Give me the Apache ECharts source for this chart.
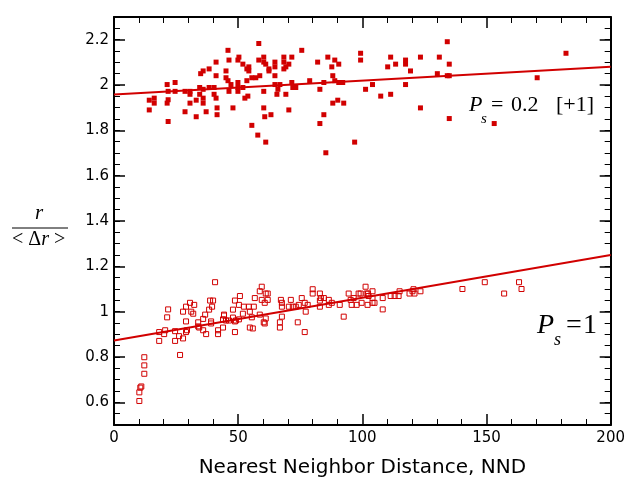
<!DOCTYPE html>
<html>
<head>
<meta charset="utf-8">
<script src="https://cdn.jsdelivr.net/npm/echarts@6/dist/echarts.min.js"></script>
<style>html,body{margin:0;padding:0;background:#fff}#c{width:628px;height:483px}</style>
</head>
<body>
<div id="c"></div>
<script>
// Ps = 0.2 (plotted with +1 offset), filled squares
const filledX = [14.2,16.2,16.2,14.2,21.4,21.8,21.4,21.8,21.8,24.6,24.6,28.6,28.6,30.6,30.6,30.6,33.1,33.1,34.5,34.5,34.9,35.9,35.9,35.9,35.9,37.1,38.3,38.3,40.3,40.3,41.1,41.1,41.1,41.5,41.5,45.9,45.1,45.1,45.9,46.3,47.1,46.3,47.9,49.9,50.3,49.9,49.9,49.9,51.9,51.9,53.5,54.3,54.3,53.5,52.7,53.9,55.5,55.5,57.1,57.9,58.3,58.3,58.7,60.3,60.3,61.1,60.3,60.3,60.7,61.1,62.4,62.4,63.2,64.8,64.8,64.8,64.8,66,65.6,66.8,68.4,68.4,68.4,69.2,70.4,71.6,71.6,72,73.2,69.2,70.4,75.6,78.8,82,82.9,82.9,84.5,84.5,85.3,86.1,87.7,88.1,88.9,88.9,90.5,90.5,92.1,90.1,88.1,92.5,96.9,99.3,99.3,101.3,104.1,107.4,110.2,111.4,111.4,113.4,117.4,117.4,117.4,119.4,123.4,123.4,130.2,131,134.2,135,134.2,135,135,153.1,170.4,182];
const filledY = [1.933,1.942,1.92,1.89,2.002,1.972,1.92,1.935,1.839,2.011,1.972,1.972,1.882,1.972,1.959,1.92,1.933,1.86,1.989,1.959,2.05,2.062,1.981,1.942,1.92,1.882,2.071,1.989,1.989,1.959,2.101,2.041,1.942,1.899,1.869,2.153,2.062,2.032,2.019,2.11,2.002,1.972,1.899,2.11,2.123,2.011,1.989,1.972,2.092,1.989,2.071,2.062,2.08,2.019,1.942,1.951,1.822,2.032,2.032,1.779,2.183,2.11,2.041,2.123,2.101,2.092,1.972,1.899,1.86,1.748,2.071,2.062,1.869,2.101,2.08,2.041,2.002,1.981,1.959,2.002,2.123,2.101,2.071,2.08,2.092,2.123,2.011,1.989,1.989,1.959,1.89,2.153,2.019,2.101,1.981,1.83,2.011,1.869,1.701,2.123,2.08,2.041,2.11,2.019,2.092,2.011,2.011,1.933,1.92,1.92,1.748,2.14,2.11,1.981,2.002,1.951,2.08,2.123,1.959,2.092,2.11,2.092,2.002,2.062,2.123,1.899,2.05,2.123,2.191,2.092,2.041,2.041,1.852,1.83,2.032,2.14];
// Ps = 1, open squares
const openX = [10.2,10.2,11,10.6,12.2,12.2,12.2,18.2,18.2,20.2,20.6,21.4,21.8,24.6,24.6,26.2,26.6,27.8,27.8,29,29,29,29.4,30.6,31.1,31.9,32.3,33.9,33.9,34.3,35.9,35.9,37.1,36.7,38.3,38.7,39.9,39.5,39.1,39.1,40.7,41.9,41.9,43.9,43.9,44.3,44.3,45.1,46.3,47.9,47.9,48.7,48.7,49.1,48.7,50.3,50.7,50.3,51.9,52.3,54.3,54.7,54.7,55.9,55.5,56.3,56.7,58.7,58.7,59.5,59.5,60.7,61.1,61.9,61.9,60.3,61.1,60.7,66.8,66.8,67.2,67.6,67.6,67.6,70.4,71.2,72,73.2,74,74.4,75.6,76.8,77.2,76.8,78,80,80,82.9,83.3,82.9,82.9,84.5,86.5,86.5,87.7,90.9,92.5,94.5,95.3,95.7,96.5,97.7,98.5,99.7,101.3,101.7,102.1,102.5,99.3,102.3,104.1,104.1,104.9,104.1,108.2,108.2,111.4,113,114.6,115,119,120.2,120.6,121,123.4,140.3,149.3,157.1,163.1,164.1];
const openY = [0.606,0.644,0.67,0.665,0.726,0.763,0.799,0.871,0.91,0.901,0.918,0.975,1.01,0.871,0.914,0.892,0.809,0.882,1.0,1.022,0.957,0.91,0.918,1.039,1.0,0.991,1.03,0.953,0.935,0.93,0.968,0.918,0.901,0.987,1.009,1.049,1.049,1.022,0.957,0.948,1.13,0.918,0.901,0.93,0.966,0.987,0.983,0.961,0.961,0.974,1.009,0.91,0.957,0.961,1.049,1.03,1.069,0.966,0.991,1.022,1.022,1.0,0.93,0.926,0.975,1.022,1.06,0.987,1.09,1.11,1.052,1.039,1.08,1.08,1.052,0.953,0.97,0.948,0.953,0.93,1.052,1.039,1.022,0.978,1.022,1.052,1.022,1.022,0.953,1.03,1.06,1.039,1.0,0.91,1.03,1.099,1.08,1.08,1.06,1.049,1.022,1.06,1.052,1.03,1.039,1.03,0.978,1.08,1.052,1.03,1.06,1.03,1.08,1.039,1.11,1.08,1.03,1.069,1.08,1.08,1.09,1.06,1.039,1.039,1.06,1.01,1.069,1.069,1.069,1.09,1.08,1.09,1.099,1.08,1.09,1.1,1.13,1.08,1.13,1.1];
// linear fits (endpoints)
const fitX = [0, 200];
const fitUpperY = [1.958, 2.08];
const fitLowerY = [0.873, 1.25];
// axis ticks
const xMajorTicks = [0, 50, 100, 150, 200];
const yMajorTicks = [0.6, 0.8, 1, 1.2, 1.4, 1.6, 1.8, 2, 2.2];

const RED = '#d10000';
const pairs = (xs, ys) => xs.map((x, i) => [x, ys[i]]);

const chart = echarts.init(document.getElementById('c'), null, {renderer: 'canvas'});
const axisLine = {show: true, lineStyle: {color: '#000', width: 2}};
const majorTick = {show: true, inside: true, length: 11, lineStyle: {color: '#000', width: 1.5}};
const minorTickStyle = {show: true, inside: true, length: 6, lineStyle: {color: '#000', width: 1}};
const labelFont = {color: '#000', fontFamily: 'DejaVu Sans', fontSize: 15};

const xBase = {type: 'value', min: 0, max: 200, interval: 50, splitLine: {show: false}, axisLine: axisLine,
  axisTick: majorTick, minorTick: Object.assign({splitNumber: 5}, minorTickStyle)};

const option = {
  animation: false,
  grid: {left: 114, right: 16, top: 17, bottom: 50, containLabel: false},
  xAxis: [
    Object.assign({}, xBase, {position: 'bottom',
      axisLabel: Object.assign({margin: 6, customValues: xMajorTicks}, labelFont),
      name: 'Nearest Neighbor Distance, NND', nameLocation: 'middle', nameGap: 33,
      nameTextStyle: {color: '#000', fontFamily: 'DejaVu Sans', fontSize: 20}}),
    Object.assign({}, xBase, {position: 'top', axisLabel: {show: false}})
  ],
  yAxis: [
    {type: 'value', min: 0.5, max: 2.3, position: 'left', splitLine: {show: false}, axisLine: axisLine,
      axisTick: Object.assign({customValues: yMajorTicks}, majorTick),
      axisLabel: Object.assign({customValues: yMajorTicks, margin: 5}, labelFont)},
    {type: 'value', min: 0.5, max: 2.3, interval: 0.05, position: 'left', splitLine: {show: false},
      axisLine: {show: false}, axisTick: minorTickStyle, axisLabel: {show: false}},
    {type: 'value', min: 0.5, max: 2.3, position: 'right', splitLine: {show: false}, axisLine: axisLine,
      axisTick: Object.assign({customValues: yMajorTicks}, majorTick),
      axisLabel: {show: false}},
    {type: 'value', min: 0.5, max: 2.3, interval: 0.05, position: 'right', splitLine: {show: false},
      axisLine: {show: false}, axisTick: minorTickStyle, axisLabel: {show: false}}
  ],
  series: [
    {type: 'scatter', symbol: 'rect', symbolSize: 5, data: pairs(filledX, filledY),
      itemStyle: {color: RED, opacity: 1}},
    {type: 'scatter', symbol: 'rect', symbolSize: 5, data: pairs(openX, openY),
      itemStyle: {color: 'rgba(255,255,255,0)', borderColor: RED, borderWidth: 1, opacity: 1}},
    {type: 'line', data: pairs(fitX, fitUpperY), showSymbol: false, symbol: 'none',
      lineStyle: {color: RED, width: 2}, silent: true},
    {type: 'line', data: pairs(fitX, fitLowerY), showSymbol: false, symbol: 'none',
      lineStyle: {color: RED, width: 2}, silent: true}
  ],
  graphic: [
    // y-axis label fraction
    {type: 'text', left: 35, top: 203, style: {text: 'r', fontFamily: 'Liberation Serif', fontStyle: 'italic', fontSize: 21, fill: '#000'}},
    {type: 'line', shape: {x1: 12, y1: 228, x2: 68, y2: 228}, style: {stroke: '#000', lineWidth: 1}},
    {type: 'text', left: 12, top: 230, style: {text: '{n|< Δ}{i|r}{n| >}', fontSize: 20, fill: '#000',
      rich: {n: {fontFamily: 'Liberation Serif', fontSize: 20}, i: {fontFamily: 'Liberation Serif', fontStyle: 'italic', fontSize: 20}}}},
    // Ps = 0.2 [+1]
    {type: 'text', x: 469, y: 105, style: {text: 'P', fontFamily: 'Liberation Serif', fontStyle: 'italic', fontSize: 22, fill: '#000', verticalAlign: 'middle'}},
    {type: 'text', x: 481, y: 119, style: {text: 's', fontFamily: 'Liberation Serif', fontStyle: 'italic', fontSize: 15, fill: '#000', verticalAlign: 'middle'}},
    {type: 'text', x: 491, y: 105, style: {text: '=', fontFamily: 'Liberation Serif', fontSize: 22, fill: '#000', verticalAlign: 'middle'}},
    {type: 'text', x: 511, y: 105, style: {text: '0.2', fontFamily: 'Liberation Serif', fontSize: 22, fill: '#000', verticalAlign: 'middle'}},
    {type: 'text', x: 556, y: 105, style: {text: '[+1]', fontFamily: 'Liberation Serif', fontSize: 22, fill: '#000', verticalAlign: 'middle'}},
    // Ps = 1
    {type: 'text', x: 537, y: 326, style: {text: 'P', fontFamily: 'Liberation Serif', fontStyle: 'italic', fontSize: 28, fill: '#000', verticalAlign: 'middle'}},
    {type: 'text', x: 554, y: 340, style: {text: 's', fontFamily: 'Liberation Serif', fontStyle: 'italic', fontSize: 18, fill: '#000', verticalAlign: 'middle'}},
    {type: 'text', x: 566, y: 326, style: {text: '=', fontFamily: 'Liberation Serif', fontSize: 28, fill: '#000', verticalAlign: 'middle'}},
    {type: 'text', x: 583, y: 326, style: {text: '1', fontFamily: 'Liberation Serif', fontSize: 28, fill: '#000', verticalAlign: 'middle'}}
  ]
};
chart.setOption(option);
</script>
</body>
</html>
